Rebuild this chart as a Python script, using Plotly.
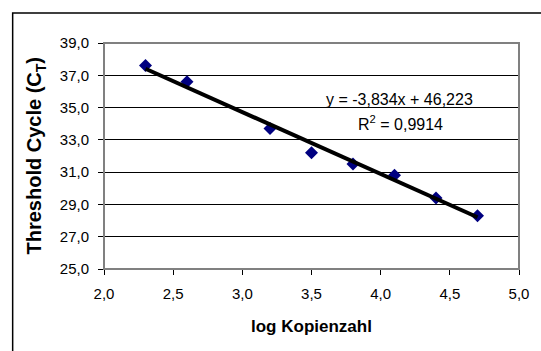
import plotly.graph_objects as go

# Data
log_copies = [2.3, 2.6, 3.2, 3.5, 3.8, 4.1, 4.4, 4.7]
ct_values = [37.6, 36.6, 33.7, 32.2, 31.5, 30.8, 29.4, 28.3]
slope = -3.834
intercept = 46.223
r_squared = 0.9914
x_ticks = [2.0, 2.5, 3.0, 3.5, 4.0, 4.5, 5.0]
y_ticks = [25, 27, 29, 31, 33, 35, 37, 39]

fit_x = [min(log_copies), max(log_copies)]
fit_y = [slope * v + intercept for v in fit_x]

W, H = 541, 351
L, R, T, B = 104, 19, 43, 82
pw, ph = W - L - R, H - T - B

def px_to_paper_x(px):
    return (px - L) / pw

def px_to_paper_y(py):
    return (H - B - py) / ph

fig = go.Figure()
fig.add_trace(go.Scatter(
    x=log_copies, y=ct_values, mode="markers",
    marker=dict(symbol="diamond", size=10, color="#000080", line=dict(width=0)),
    showlegend=False, hoverinfo="skip"))
fig.add_trace(go.Scatter(
    x=fit_x, y=fit_y, mode="lines",
    line=dict(color="black", width=4),
    showlegend=False, hoverinfo="skip"))

def fmt(v, d):
    return f"{v:.{d}f}".replace(".", ",")

eq_text = f"y = {fmt(slope, 3)}x + {fmt(intercept, 3)}"
r2_text = f"R<sup>2</sup> = {fmt(r_squared, 4)}"

font_family = "Liberation Sans, Arial, sans-serif"

fig.add_annotation(xref="paper", yref="paper",
                   x=px_to_paper_x(402), y=px_to_paper_y(100),
                   text=eq_text, showarrow=False, xanchor="center", yanchor="middle",
                   font=dict(family=font_family, size=16, color="black"))
fig.add_annotation(xref="paper", yref="paper",
                   x=px_to_paper_x(403), y=px_to_paper_y(123),
                   text=r2_text, showarrow=False, xanchor="center", yanchor="middle",
                   font=dict(family=font_family, size=16, color="black"))

# outer chart frame
fig.add_shape(type="rect", xref="paper", yref="paper",
              x0=px_to_paper_x(12), x1=px_to_paper_x(580),
              y0=px_to_paper_y(400), y1=px_to_paper_y(13),
              line=dict(color="black", width=1.5), layer="below")
# plot area border (gray)
fig.add_shape(type="rect", xref="paper", yref="paper",
              x0=0, x1=1, y0=0, y1=1,
              line=dict(color="#808080", width=2), layer="above")

# axis titles placed as annotations for exact positioning
fig.add_annotation(xref="paper", yref="paper",
                   x=px_to_paper_x(313), y=px_to_paper_y(326),
                   text="<b>log Kopienzahl</b>", showarrow=False,
                   xanchor="center", yanchor="middle",
                   font=dict(family=font_family, size=17, color="black"))
fig.add_annotation(xref="paper", yref="paper",
                   x=px_to_paper_x(35), y=px_to_paper_y(155),
                   text="<b>Threshold Cycle (C<sub>T</sub>)</b>", showarrow=False,
                   textangle=-90, xanchor="center", yanchor="middle",
                   font=dict(family=font_family, size=20, color="black"))

fig.update_layout(
    width=W, height=H,
    margin=dict(l=L, r=R, t=T, b=B),
    paper_bgcolor="white", plot_bgcolor="white",
    separators=",.",
    font=dict(family=font_family, color="black", size=14),
    xaxis=dict(
        range=[2.0, 5.0], tickvals=x_ticks, tickformat=".1f",
        showgrid=False, zeroline=False,
        showline=True, linecolor="black", linewidth=1,
        ticks="outside", ticklen=5, tickcolor="black", tickwidth=1,
        ticklabelstandoff=6,
        tickfont=dict(size=15),
    ),
    yaxis=dict(
        range=[25, 39], tickvals=y_ticks, tickformat=".1f",
        showgrid=True, gridcolor="black", gridwidth=1,
        zeroline=False,
        showline=True, linecolor="black", linewidth=1,
        ticks="outside", ticklen=5, tickcolor="black", tickwidth=1,
        ticklabelstandoff=6,
        tickfont=dict(size=15),
    ),
)

fig.write_html("out.html")
